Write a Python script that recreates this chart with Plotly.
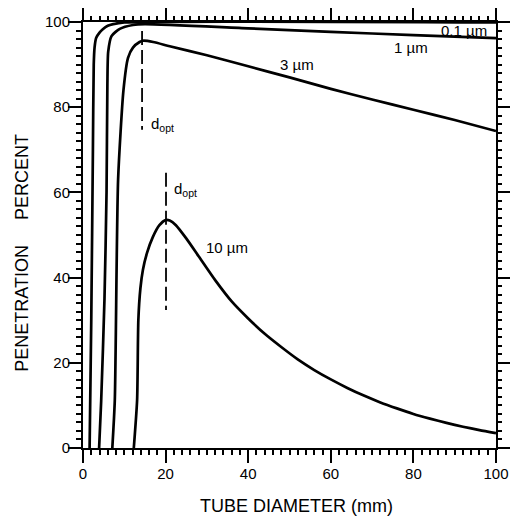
import plotly.graph_objects as go

# ---- data ----
d01_x = [1.6, 2.0, 2.4, 2.6, 2.8, 3.2, 4.0, 4.8, 6.0, 7.3, 10.0, 100.0]
d01_y = [0.0, 30.0, 70.0, 90.0, 94.0, 96.3, 97.5, 98.3, 99.1, 99.5, 99.9, 99.9]

d1_x = [3.9, 4.4, 5.2, 5.7, 5.9, 6.1, 6.9, 8.9, 12.1, 15.0, 40.0, 60.0, 80.0, 100.0]
d1_y = [0.0, 11.0, 35.0, 60.0, 85.0, 93.0, 96.7, 98.4, 99.3, 99.5, 98.5, 97.7, 96.9, 96.2]

d3_x = [7.1, 7.7, 8.5, 9.8, 10.9, 12.1, 13.7, 14.5, 17.0, 21.0, 30.0, 40.0, 50.0, 60.0, 70.0, 80.0, 90.0, 100.0]
d3_y = [0.0, 11.2, 63.0, 84.0, 91.6, 94.0, 95.3, 95.6, 95.3, 94.3, 92.2, 89.6, 87.0, 84.3, 81.8, 79.4, 77.0, 74.4]

d10_x = [12.3, 13.1, 13.4, 13.9, 14.5, 15.5, 16.9, 18.5, 20.0, 21.0, 22.5, 25.0, 28.0, 32.0, 36.0,
         40.0, 44.0, 48.0, 52.0, 56.0, 60.0, 64.0, 68.0, 72.0, 76.0, 80.0, 84.0, 88.0, 92.0, 96.0, 100.0]
d10_y = [0.0, 11.2, 30.0, 37.5, 41.8, 45.8, 49.5, 52.3, 53.5, 53.4, 52.3, 49.2, 45.0, 39.4, 34.4,
         30.4, 26.8, 23.7, 20.8, 18.3, 16.1, 14.1, 12.3, 10.7, 9.3, 8.0, 6.9, 5.9, 5.0, 4.2, 3.5]

dopt3_x = [14.3, 14.3]
dopt3_y = [97.9, 74.7]
dopt10_x = [20.1, 20.1]
dopt10_y = [64.6, 32.4]

x_ticks = [0, 20, 40, 60, 80, 100]
y_ticks = [0, 20, 40, 60, 80, 100]

curve_labels = [
    ("0.1 \u00b5m", 86.3, 98.0),
    ("1 \u00b5m", 74.9, 94.0),
    ("3 \u00b5m", 47.1, 90.0),
    ("10 \u00b5m", 29.4, 47.0),
    ("d<sub>opt</sub>", 16.1, 75.9),
    ("d<sub>opt</sub>", 21.5, 60.6),
]

FONT = "Liberation Sans, Arial, sans-serif"

fig = go.Figure()
for xs, ys in [(d01_x, d01_y), (d1_x, d1_y), (d3_x, d3_y), (d10_x, d10_y)]:
    fig.add_trace(go.Scatter(x=xs, y=ys, mode="lines",
                             line=dict(color="black", width=2.7, shape="spline", smoothing=0.6),
                             showlegend=False, hoverinfo="skip"))
for xs, ys in [(dopt3_x, dopt3_y), (dopt10_x, dopt10_y)]:
    fig.add_trace(go.Scatter(x=xs, y=ys, mode="lines", line=dict(color="black", width=1.8, dash="14px,5px"),
                             showlegend=False, hoverinfo="skip"))
# empty trace so the top/right tick axes are drawn
fig.add_trace(go.Scatter(x=[None], y=[None], xaxis="x2", yaxis="y2", mode="lines",
                         showlegend=False, hoverinfo="skip"))

for txt, x, y in curve_labels:
    fig.add_annotation(x=x, y=y, text=txt, showarrow=False, xanchor="left", yanchor="middle",
                       font=dict(family=FONT, size=15, color="black"))

fig.add_annotation(xref="paper", yref="paper", x=0.517, y=-0.136, text="TUBE DIAMETER (mm)",
                   showarrow=False, xanchor="center", yanchor="middle",
                   font=dict(family=FONT, size=18, color="black"))
fig.add_annotation(xref="paper", yref="paper", x=-0.148, y=0.458,
                   text="PENETRATION" + "\u00a0" * 5 + "PERCENT", textangle=-90,
                   showarrow=False, xanchor="center", yanchor="middle",
                   font=dict(family=FONT, size=18, color="black"))

tick_common = dict(
    showgrid=False, zeroline=False, range=[0, 100],
    ticks="outside", ticklen=13, tickwidth=2, tickcolor="black",
    minor=dict(dtick=2, ticks="outside", ticklen=5, tickwidth=1.5, tickcolor="black"),
    tickfont=dict(family=FONT, size=15, color="black"), automargin=False,
)

fig.update_layout(
    xaxis=dict(tickmode="array", tickvals=x_ticks, ticktext=[str(v) for v in x_ticks],
               ticklabelstandoff=-2, showline=True, linecolor="black", linewidth=2, mirror=True,
               **tick_common),
    yaxis=dict(tickmode="array", tickvals=y_ticks, ticktext=[str(v) for v in y_ticks],
               ticklabelstandoff=-5, showline=True, linecolor="black", linewidth=2, mirror=True,
               **tick_common),
    xaxis2=dict(overlaying="x", side="top", anchor="y2", tickmode="array", tickvals=x_ticks,
                showticklabels=False, showline=False, **tick_common),
    yaxis2=dict(overlaying="y", side="right", anchor="x2", tickmode="array", tickvals=y_ticks,
                showticklabels=False, showline=False, **tick_common),
    width=510, height=517, margin=dict(l=83, r=14, t=22, b=69, autoexpand=False),
    paper_bgcolor="white", plot_bgcolor="white",
)

fig.write_html("out.html", config={"displayModeBar": False},
               post_script="document.body.style.margin='0';document.body.style.overflow='hidden';")
